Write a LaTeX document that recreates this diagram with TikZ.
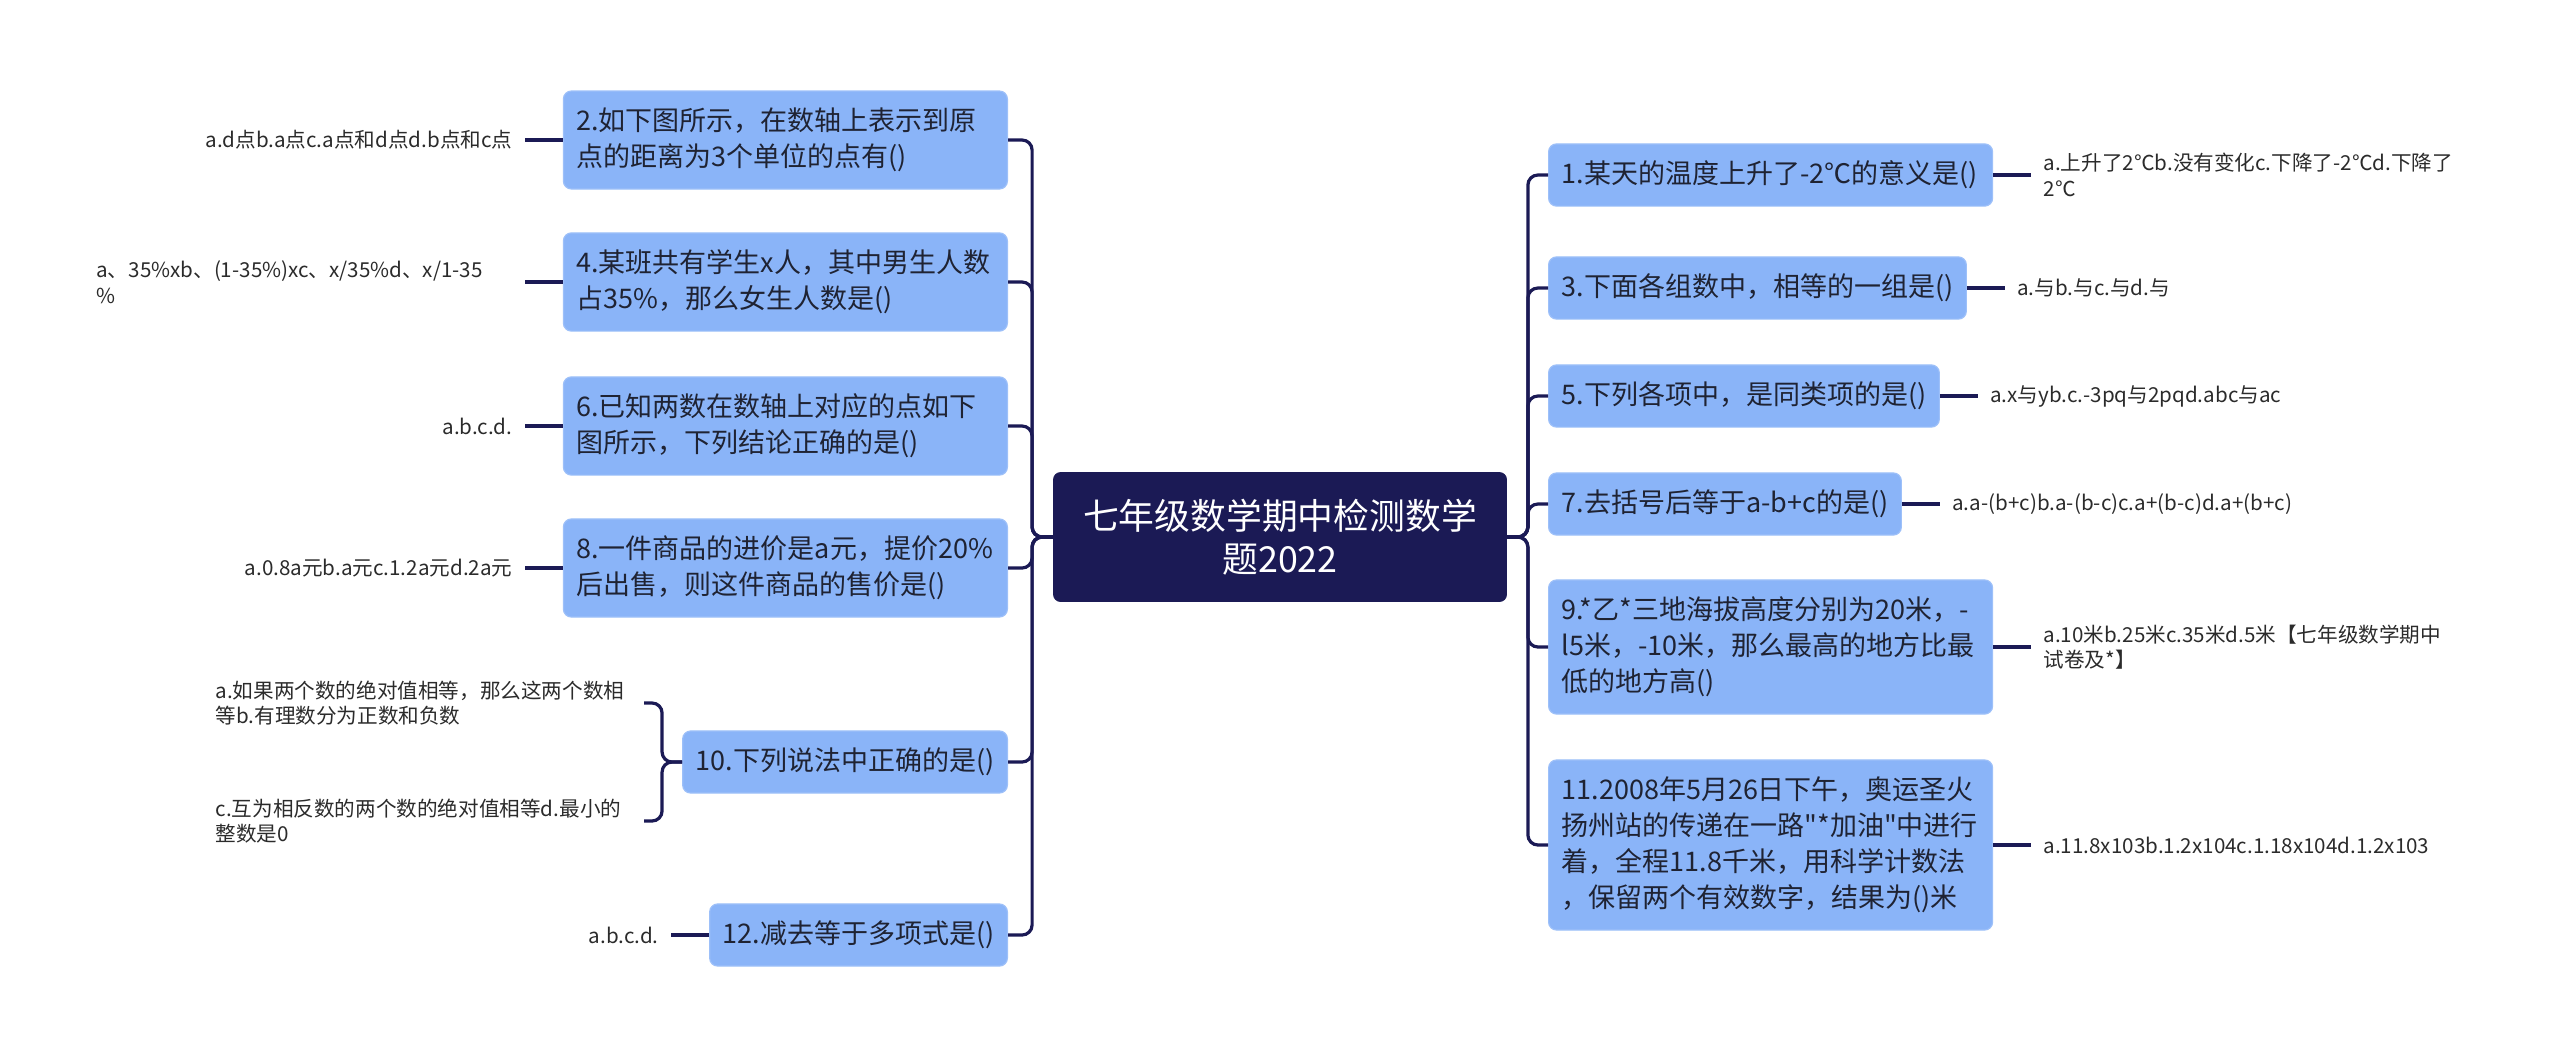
\documentclass[tikz,border=0pt]{standalone}
\usepackage{fontspec}
\setmainfont{Noto Sans CJK SC}[Ligatures=TeXOff]
\usepackage{tikz}
\usetikzlibrary{positioning}
\definecolor{navy}{HTML}{1B1A55}
\definecolor{qfill}{HTML}{8AB4F8}
\definecolor{qedge}{HTML}{9DC0F9}
\definecolor{ink}{HTML}{1F2333}
\definecolor{leafink}{HTML}{2B2B2B}
\tikzset{
  qbox/.style={draw=qedge,fill=qfill,rounded corners=4pt,line width=0.6pt,inner xsep=6.5pt,inner ysep=8.5pt,align=left,text=ink,font=\fontsize{13.5}{18}\selectfont},
  qwide/.style={qbox,text width=209pt},
  rootbox/.style={draw=navy,fill=navy,rounded corners=3.5pt,text=white,align=center,minimum width=226.5pt,minimum height=64.5pt,font=\fontsize{17.9}{21.7}\selectfont},
  ans/.style={inner xsep=6pt,inner ysep=2pt,align=left,text=leafink,font=\fontsize{10.3}{12.85}\selectfont},
  wans/.style={ans,text width=208pt},
  link/.style={draw=navy,line width=1.6pt,rounded corners=5pt},
}
\begin{document}
\begin{tikzpicture}[x=0.5pt,y=-0.5pt,node distance=19pt]
\useasboundingbox (0,0) rectangle (2560,1056);
\node[rootbox] (root) at (1280,537) {七年级数学期中检测数学\\题2022};
\node[qwide,anchor=east] (q2) at (1008,140) {2.如下图所示，在数轴上表示到原\\点的距离为3个单位的点有()};
\node[qwide,anchor=east] (q4) at (1008,282) {4.某班共有学生x人，其中男生人数\\占35\%，那么女生人数是()};
\node[qwide,anchor=east] (q6) at (1008,426) {6.已知两数在数轴上对应的点如下\\图所示，下列结论正确的是()};
\node[qwide,anchor=east] (q8) at (1008,568) {8.一件商品的进价是a元，提价20\%\\后出售，则这件商品的售价是()};
\node[qbox,anchor=east] (q10) at (1008,762) {10.下列说法中正确的是()};
\node[qbox,anchor=east] (q12) at (1008,935) {12.减去等于多项式是()};
\node[ans,left=of q2] (a2) {a.d点b.a点c.a点和d点d.b点和c点};
\node[wans,left=of q4] (a4) {a、35\%xb、(1-35\%)xc、x/35\%d、x/1-35\\\%};
\node[ans,left=of q6] (a6) {a.b.c.d.};
\node[ans,left=of q8] (a8) {a.0.8a元b.a元c.1.2a元d.2a元};
\node[wans,left=of q10,yshift=29.5pt] (a10a) {a.如果两个数的绝对值相等，那么这两个数相\\等b.有理数分为正数和负数};
\node[wans,left=of q10,yshift=-29.5pt] (a10b) {c.互为相反数的两个数的绝对值相等d.最小的\\整数是0};
\node[ans,left=of q12] (a12) {a.b.c.d.};
\node[qwide,anchor=west] (q1) at (1548,175) {1.某天的温度上升了-2℃的意义是()};
\node[qbox,anchor=west] (q3) at (1548,288) {3.下面各组数中，相等的一组是()};
\node[qbox,anchor=west] (q5) at (1548,396) {5.下列各项中，是同类项的是()};
\node[qbox,anchor=west] (q7) at (1548,504) {7.去括号后等于a-b+c的是()};
\node[qwide,anchor=west] (q9) at (1548,647) {9.*乙*三地海拔高度分别为20米，-\\l5米，-10米，那么最高的地方比最\\低的地方高()};
\node[qwide,anchor=west] (q11) at (1548,845) {11.2008年5月26日下午，奥运圣火\\扬州站的传递在一路"*加油"中进行\\着，全程11.8千米，用科学计数法\\，保留两个有效数字，结果为()米};
\node[wans,right=of q1] (a1) {a.上升了2℃b.没有变化c.下降了-2℃d.下降了\\2℃};
\node[ans,right=of q3] (a3) {a.与b.与c.与d.与};
\node[ans,right=of q5] (a5) {a.x与yb.c.-3pq与2pqd.abc与ac};
\node[ans,right=of q7] (a7) {a.a-(b+c)b.a-(b-c)c.a+(b-c)d.a+(b+c)};
\node[wans,right=of q9] (a9) {a.10米b.25米c.35米d.5米【七年级数学期中\\试卷及*】};
\node[ans,right=of q11] (a11) {a.11.8x103b.1.2x104c.1.18x104d.1.2x103};
\foreach \q in {q2,q4,q6,q8,q10,q12} \draw[link] (root.west) -- ++(-21,0) |- (\q.east);
\foreach \q in {q1,q3,q5,q7,q9,q11} \draw[link] (root.east) -- ++(21,0) |- (\q.west);
\foreach \q/\a in {q2/a2,q4/a4,q6/a6,q8/a8,q12/a12} \draw[link] (\q.west) -- (\a.east);
\foreach \q/\a in {q1/a1,q3/a3,q5/a5,q7/a7,q9/a9,q11/a11} \draw[link] (\q.east) -- (\a.west);
\draw[link] (q10.west) -- ++(-20,0) |- (a10a.east); \draw[link] (q10.west) -- ++(-20,0) |- (a10b.east);
\end{tikzpicture}
\end{document}
